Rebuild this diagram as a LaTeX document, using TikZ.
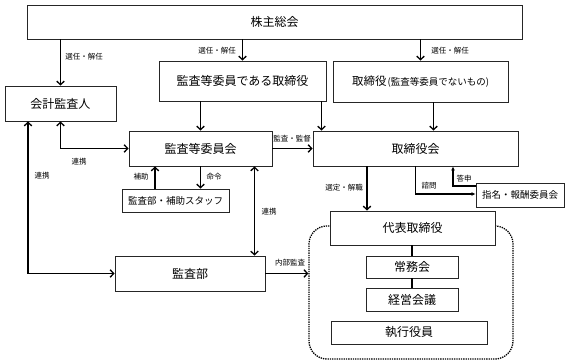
\documentclass[tikz,border=0pt]{standalone}
\usepackage{fontspec}
\setmainfont{Noto Sans CJK JP}
\usetikzlibrary{arrows.meta}
\tikzset{
  box/.style={draw=black!85, line width=0.9pt, fill=white, inner sep=0pt, align=center, font=\fontsize{12}{14}\selectfont},
  sbox/.style={box, font=\fontsize{9.5}{11}\selectfont},
  arr/.style={line width=1.5pt, -{Straight Barb[length=3.5pt,width=7.5pt,line width=1.3pt]}},
  darr/.style={line width=1.5pt, {Straight Barb[length=3.5pt,width=7.5pt,line width=1.3pt]}-{Straight Barb[length=3.5pt,width=7.5pt,line width=1.3pt]}},
  sarr/.style={line width=1.1pt, -{Latex[length=4pt,width=4pt]}},
  plain/.style={line width=1.5pt},
  lbl/.style={font=\fontsize{7.5}{9}\selectfont, inner sep=0pt}
}
\begin{document}
\begin{tikzpicture}[x=1pt,y=-1pt]
\useasboundingbox (0,0) rectangle (568,364);
% group
\node[draw, densely dotted, line width=1.3pt, rounded corners=18pt, minimum width=204pt, minimum height=133pt, inner sep=0pt] (grp) at (411,292.5) {};
% boxes
\node[box, minimum width=495pt, minimum height=34pt] (kabu) at (274.5,22) {株主総会};
\node[box, minimum width=111pt, minimum height=35pt] (kaikei) at (60.5,103.5) {会計監査人};
\node[box, minimum width=167pt, minimum height=40pt] (kansatori) at (242.5,81) {監査等委員である取締役};
\node[box, minimum width=175pt, minimum height=41pt] (torinon) at (420.5,81.5) {{\fontsize{11.5}{14}\selectfont 取締役}{\fontsize{9.5}{11}\selectfont\kern1pt(監査等委員でないもの)}};
\node[box, minimum width=143pt, minimum height=35pt] (iinkai) at (200.5,148.5) {監査等委員会};
\node[box, minimum width=205pt, minimum height=35pt] (torikai) at (415.5,148.5) {取締役会};
\node[sbox, minimum width=107pt, minimum height=23pt] (hojo) at (175.5,200.5) {監査部・補助スタッフ};
\node[sbox, minimum width=88pt, minimum height=24pt] (shimei) at (520,195) {指名・報酬委員会};
\node[box, minimum width=150pt, minimum height=35pt] (kansabu) at (190,273.5) {監査部};
\node[box, minimum width=165pt, minimum height=34pt] (daihyo) at (412.5,228) {代表取締役};
\node[box, minimum width=92pt, minimum height=22pt] (jomu) at (412,267) {常務会};
\node[box, minimum width=92pt, minimum height=23pt] (keiei) at (412,299.5) {経営会議};
\node[box, minimum width=156pt, minimum height=23pt] (shikko) at (409,332.5) {執行役員};
% helper coordinates
\coordinate (c2) at ([xshift=-5pt]kansatori.south east);
\coordinate (c3) at ([xshift=13pt]torinon.south);
\coordinate (c4) at ([xshift=-32.5pt]kaikei.south);
\coordinate (c5) at ([xshift=-20.5pt]hojo.north);
\coordinate (c6) at ([xshift=-18pt]iinkai.south east);
\coordinate (c7) at ([xshift=-48.5pt]torikai.south);
\coordinate (c8) at ([yshift=9pt]shimei.west);
\coordinate (c9) at ([xshift=37.5pt]torikai.south);
% connectors
\draw[arr] (kabu.south -| kaikei.north) -- (kaikei.north);
\draw[arr] (kabu.south -| kansatori.north) -- (kansatori.north);
\draw[arr] (kabu.south -| torinon.north) -- (torinon.north);
\draw[arr] (kansatori.south -| iinkai.north) -- (iinkai.north);
\draw[arr] (c2) -- (c2 |- torikai.north);
\draw[arr] (c3) -- (c3 |- torikai.north);
\draw[darr] (kaikei.south) |- (iinkai.west);
\draw[darr] (c4) |- (kansabu.west);
\draw[arr] (iinkai.east) -- (torikai.west);
\draw[arr] (c5) -- (c5 |- iinkai.south);
\draw[arr] (iinkai.south) -- (iinkai.south |- hojo.north);
\draw[darr] (c6) -- (c6 |- kansabu.north);
\draw[arr] (kansabu.east) -- (kansabu.east -| grp.west);
\draw[arr] (c7) -- (c7 |- daihyo.north);
\draw[sarr] (torikai.south) |- ([yshift=1pt]shimei.west);
\draw[sarr] (c8) -| (c9);
\draw[plain] (daihyo.south -| jomu.north) -- (jomu.north);
\draw[plain] (jomu.south) -- (keiei.north);
% labels
\node[lbl] (l1) at (84,57) {選任・解任};
\node[lbl] (l2) at (217,51) {選任・解任};
\node[lbl] (l3) at (450,51) {選任・解任};
\node[lbl] (l4) at (79,162) {連携};
\node[lbl] (l5) at (42,176) {連携};
\node[lbl] (l6) at (292,139) {監査・監督};
\node[lbl] (l7) at (141,177) {補助};
\node[lbl] (l8) at (214,177) {命令};
\node[lbl] (l9) at (269,212) {連携};
\node[lbl] (l10) at (290,263) {内部監査};
\node[lbl] (l11) at (344,188) {選定・解職};
\node[lbl] (l12) at (429,186) {諮問};
\node[lbl] (l13) at (464,179) {答申};
\end{tikzpicture}
\end{document}
